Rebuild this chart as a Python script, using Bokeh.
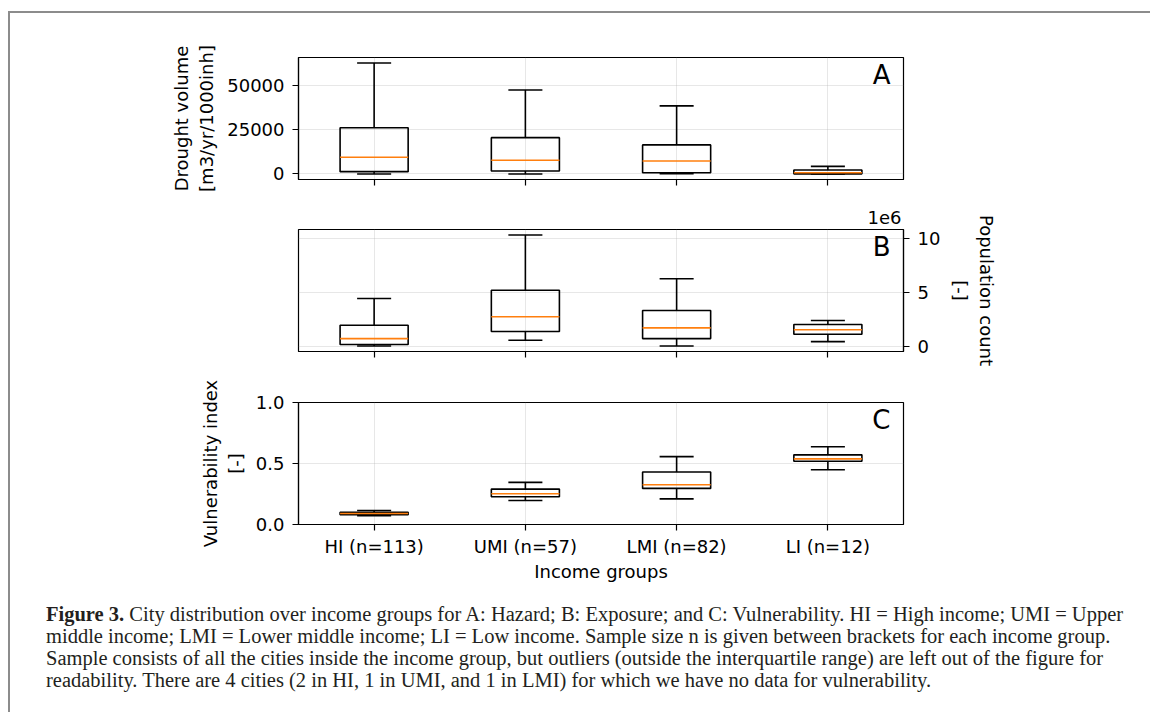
from bokeh.plotting import figure
from bokeh.layouts import column, row
from bokeh.models import FixedTicker, Label, Div, Range1d, Spacer, Title
from bokeh.embed import file_html
from bokeh.resources import INLINE

# ---------------- data ----------------
groups = ["HI (n=113)", "UMI (n=57)", "LMI (n=82)", "LI (n=12)"]
positions = [1, 2, 3, 4]

# A: drought volume [m3/yr/1000inh]
a_lo = [0, 0, 100, 0]
a_q1 = [1300, 1700, 700, 50]
a_med = [9400, 7700, 7300, 700]
a_q3 = [26100, 20500, 16400, 2200]
a_hi = [62600, 47400, 38400, 4300]

# B: population count (millions, axis shows 1e6)
b_lo = [0.06, 0.58, 0.06, 0.46]
b_q1 = [0.19, 1.39, 0.74, 1.14]
b_med = [0.74, 2.75, 1.73, 1.55]
b_q3 = [1.97, 5.21, 3.33, 2.04]
b_hi = [4.44, 10.3, 6.27, 2.41]

# C: vulnerability index [-]
c_lo = [0.072, 0.197, 0.21, 0.449]
c_q1 = [0.08, 0.227, 0.296, 0.519]
c_med = [0.09, 0.252, 0.326, 0.538]
c_q3 = [0.10, 0.29, 0.43, 0.571]
c_hi = [0.115, 0.345, 0.556, 0.637]

a_ticks = [0, 25000, 50000]
a_tick_labels = ["0", "25000", "50000"]
b_ticks = [0, 5, 10]
b_tick_labels = ["0", "5", "10"]
c_ticks = [0.0, 0.5, 1.0]
c_tick_labels = ["0.0", "0.5", "1.0"]

caption_bold = "Figure 3."
caption_lines = [
    "City distribution over income groups for A: Hazard; B: Exposure; and C: Vulnerability. HI = High income; UMI = Upper",
    "middle income; LMI = Lower middle income; LI = Low income. Sample size n is given between brackets for each income group.",
    "Sample consists of all the cities inside the income group, but outliers (outside the interquartile range) are left out of the figure for",
    "readability. There are 4 cities (2 in HI, 1 in UMI, and 1 in LMI) for which we have no data for vulnerability.",
]

FONT = "DejaVu Sans"
FS = "18px"
W = 1133
BW = 0.45
CW = BW / 4


def pad_range(lo, hi):
    mn, mx = min(lo), max(hi)
    m = 0.05 * (mx - mn)
    return (mn - m, mx + m)


def make_panel(height, top, bottom, lo, q1, med, q3, hi, yr, yticks, ylabels,
               ylabel, side, letter, xlabels):
    p = figure(width=W, height=height, x_range=Range1d(0.5, 4.5),
               y_range=Range1d(*yr), output_backend="svg",
               toolbar_location=None, min_border_left=288,
               min_border_right=W - 288 - 605, min_border_top=top,
               min_border_bottom=bottom, y_axis_location=side)
    p.outline_line_color = "black"
    p.outline_line_width = 1.2
    p.outline_line_alpha = 1
    p.background_fill_color = "white"
    p.border_fill_color = "white"

    for g in (p.xgrid, p.ygrid):
        g.grid_line_color = "#b0b0b0"
        g.grid_line_alpha = 0.3
        g.grid_line_width = 1
    p.xgrid.ticker = FixedTicker(ticks=positions)
    p.ygrid.ticker = FixedTicker(ticks=yticks)

    for ax in (p.xaxis[0], p.yaxis[0]):
        ax.axis_line_color = "black"
        ax.axis_line_width = 1.2
        ax.major_tick_line_color = "black"
        ax.major_tick_line_width = 1.2
        ax.major_tick_out = 6
        ax.major_tick_in = 0
        ax.minor_tick_line_color = None
        ax.major_label_text_font = FONT
        ax.major_label_text_font_size = FS
        ax.major_label_text_color = "black"
        ax.axis_label_text_font = FONT
        ax.axis_label_text_font_size = FS
        ax.axis_label_text_font_style = "normal"
        ax.axis_label_text_color = "black"
        ax.major_label_standoff = 8
        ax.axis_label_standoff = 7

    p.yaxis.ticker = FixedTicker(ticks=yticks)
    p.yaxis.major_label_overrides = dict(zip(yticks, ylabels))
    p.yaxis.axis_label = ylabel

    if xlabels:
        p.xaxis.ticker = FixedTicker(ticks=positions)
        p.xaxis.major_label_overrides = dict(zip(positions, groups))
        p.xaxis.axis_label = "Income groups"
        p.xaxis.major_label_standoff = 5
        p.xaxis.axis_label_standoff = 1
    else:
        # tick marks only, no labels
        p.xaxis.ticker = FixedTicker(ticks=[], minor_ticks=positions)
        p.xaxis.minor_tick_line_color = "black"
        p.xaxis.minor_tick_line_width = 1.2
        p.xaxis.minor_tick_out = 6
        p.xaxis.minor_tick_in = 0

    left = [x - BW / 2 for x in positions]
    right = [x + BW / 2 for x in positions]
    cl = [x - CW for x in positions]
    cr = [x + CW for x in positions]

    lw = 1.6
    p.quad(left=left, right=right, bottom=q1, top=q3, fill_color=None,
           line_color="black", line_width=lw)
    p.segment(x0=positions, y0=q3, x1=positions, y1=hi, line_color="black", line_width=lw)
    p.segment(x0=positions, y0=q1, x1=positions, y1=lo, line_color="black", line_width=lw)
    p.segment(x0=cl, y0=hi, x1=cr, y1=hi, line_color="black", line_width=lw)
    p.segment(x0=cl, y0=lo, x1=cr, y1=lo, line_color="black", line_width=lw)
    p.segment(x0=left, y0=med, x1=right, y1=med, line_color="#ff7f0e", line_width=lw)

    p.add_layout(Label(x=4.5, y=yr[1], x_offset=-13, y_offset=-2, text=letter,
                       text_align="right", text_baseline="top",
                       text_font=FONT, text_font_size="26px", text_color="black"))
    return p


a_yr = pad_range(a_lo, a_hi)
b_yr = pad_range(b_lo, b_hi)
c_yr = (0.0, 1.0)

pA = make_panel(181, 44, 15, a_lo, a_q1, a_med, a_q3, a_hi, a_yr, a_ticks,
                a_tick_labels, "Drought volume\n[m3/yr/1000inh]", "left", "A", False)
pB = make_panel(183, 35, 26, b_lo, b_q1, b_med, b_q3, b_hi, b_yr, b_ticks,
                b_tick_labels, "Population count\n[-]", "right", "B", False)
pC = make_panel(215, 25, 68, c_lo, c_q1, c_med, c_q3, c_hi, c_yr, c_ticks,
                c_tick_labels, "Vulnerability index\n[-]", "left", "C", True)

pB.add_layout(Title(text="1e6", align="right", text_font=FONT, text_font_size=FS,
                    text_font_style="normal", text_color="black", standoff=11,
                    offset=2), "above")

lines_html = "<br>".join(
    ("<b>" + caption_bold + "</b> " + t) if i == 0 else t
    for i, t in enumerate(caption_lines))
html = ("<div style=\"font-family:'Liberation Serif',serif;font-size:20.5px;"
        "line-height:22px;white-space:nowrap;color:#231f20;padding:6px 0 0 31px;\">"
        + lines_html + "</div>")
cap = Div(text=html, width=1130, height=110)

inner = column(pA, pB, pC, cap,
               styles={"border-left": "2px solid #8c8c8c",
                       "border-top": "2px solid #8c8c8c"})
layout = column(Spacer(height=11), row(Spacer(width=8), inner))

open("out.html", "w").write(file_html(layout, INLINE))
